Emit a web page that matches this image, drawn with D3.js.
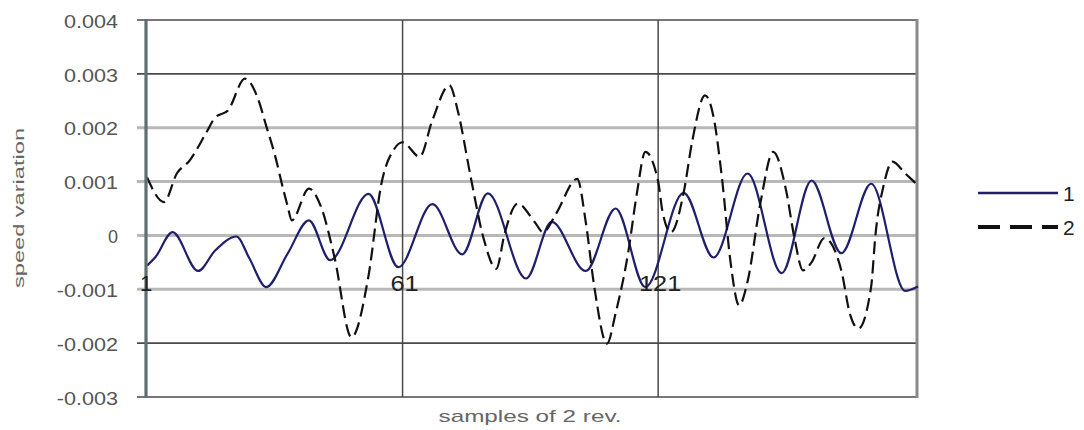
<!DOCTYPE html>
<html>
<head>
<meta charset="utf-8">
<script src="https://cdn.jsdelivr.net/npm/d3@7"></script>
<style>
  html, body { margin: 0; padding: 0; background: #ffffff; }
  svg { display: block; }
  text { font-family: "Liberation Sans", Arial, sans-serif; }
</style>
</head>
<body>
<svg id="chart" width="1084" height="430"></svg>
<script>
// ---- data ----
const seriesNames = ["1", "2"];
const categoryLabels = ["1", "61", "121"];
const yTicks = [-0.003, -0.002, -0.001, 0, 0.001, 0.002, 0.003, 0.004];
const yTitle = "speed variation";
const xTitle = "samples of 2 rev.";

// series 1 (solid) : sample index, value
const samples1 = [1, 3, 7, 13, 17, 22, 25, 29, 34, 39, 44, 53, 60, 68, 75, 81, 90, 96, 104, 111, 118, 127, 134, 142, 150, 157, 164, 171, 179, 182];
const values1 = [-0.00056, -0.00040, 0.00006, -0.00066, -0.00028, -0.00002, -0.00042, -0.00096, -0.00034, 0.00028, -0.00046, 0.00077, -0.00059, 0.00058, -0.00035, 0.00078, -0.00080, 0.00025, -0.00066, 0.00050, -0.00096, 0.00079, -0.00041, 0.00115, -0.00070, 0.00102, -0.00033, 0.00096, -0.00103, -0.00095];

// series 2 (dashed) : sample index, value
const samples2 = [1, 5, 8, 11, 15, 17, 20, 24, 27, 29, 31, 33, 34, 35, 39, 42, 45, 49, 53, 56, 59, 61, 65, 68, 72, 74, 77, 80, 83, 85, 88, 92, 94, 97, 102, 104, 106, 109, 111, 114, 116, 118, 121, 122, 124, 127, 129, 132, 134, 136, 138, 140, 142, 145, 148, 151, 153, 155, 157, 160, 164, 166, 168, 171, 172, 174, 176, 179, 182];
const values2 = [0.00108, 0.00062, 0.00115, 0.00139, 0.00192, 0.00219, 0.00232, 0.00291, 0.00255, 0.00203, 0.00150, 0.00085, 0.00055, 0.00028, 0.00087, 0.00050, -0.00040, -0.00189, -0.00075, 0.00095, 0.00160, 0.00173, 0.00146, 0.00214, 0.00279, 0.00230, 0.00108, -0.00005, -0.00062, 0.00005, 0.00059, 0.00025, 0.00006, 0.00040, 0.00105, 0.00025, -0.00095, -0.00201, -0.00145, -0.00030, 0.00078, 0.00155, 0.00100, 0.00045, 0.00006, 0.00080, 0.00175, 0.00260, 0.00220, 0.00105, -0.00050, -0.00130, -0.00085, 0.00060, 0.00155, 0.00085, -0.00005, -0.00065, -0.00050, -0.00005, -0.00065, -0.00145, -0.00173, -0.00095, 0.00000, 0.00095, 0.00137, 0.00115, 0.00093];

// ---- drawing ----
const svg = d3.select("#chart");
const x = d3.scaleLinear().domain([1, 182]).range([147, 918]);
const y = d3.scaleLinear().domain([-0.003, 0.004]).range([397, 20]);
const cats = categoryLabels.map(Number);

// horizontal gridlines (extend left as tick marks)
const darkTicks = new Set([0.004, 0.003, -0.002, -0.003]);
svg.append("g").selectAll("line").data(yTicks).join("line")
  .attr("x1", 137).attr("x2", 918)
  .attr("y1", d => y(d)).attr("y2", d => y(d))
  .attr("stroke", d => darkTicks.has(d) ? "#4a4a4a" : "#b8b8b8")
  .attr("stroke-width", d => darkTicks.has(d) ? 1.6 : 3);

// vertical gridlines at category labels (except first)
svg.append("g").selectAll("line").data(cats.slice(1)).join("line")
  .attr("x1", d => x(d)).attr("x2", d => x(d))
  .attr("y1", y(0.004)).attr("y2", y(-0.003))
  .attr("stroke", "#4a4a4a").attr("stroke-width", 1.5);

// right border
svg.append("line").attr("x1", 917).attr("x2", 917)
  .attr("y1", y(0.004) - 1).attr("y2", y(-0.003) + 1)
  .attr("stroke", "#8a8a8a").attr("stroke-width", 3);

// series lines
const line = (xs, vs) => d3.line().curve(d3.curveMonotoneX)
  .x((d, i) => x(xs[i])).y((d, i) => y(vs[i]))(vs);

svg.append("path").attr("d", line(samples1, values1))
  .attr("fill", "none").attr("stroke", "#1f1f6b").attr("stroke-width", 2.2);
svg.append("path").attr("d", line(samples2, values2))
  .attr("fill", "none").attr("stroke", "#111").attr("stroke-width", 2.2)
  .attr("stroke-dasharray", "13,6");

// y axis
const yAxis = svg.append("g").attr("transform", "translate(146,0)")
  .call(d3.axisLeft(y).tickValues(yTicks).tickSize(0).tickPadding(28)
    .tickFormat(d => d === 0 ? "0" : d.toFixed(3)));
yAxis.select(".domain").attr("stroke", "#5f6e6e").attr("stroke-width", 3.2)
  .attr("d", `M0,${y(0.004) - 1}V${y(-0.003) + 1}`);
yAxis.selectAll("text")
  .attr("font-size", 18).attr("fill", "#555").attr("font-family", "Liberation Sans, Arial, sans-serif")
  .attr("dy", "0.40em")
  .each(function () {
    const w = this.getComputedTextLength();
    if (this.textContent.length > 1) d3.select(this).attr("textLength", w * 1.2).attr("lengthAdjust", "spacingAndGlyphs");
  });

// category labels
svg.append("g").selectAll("text").data(categoryLabels).join("text")
  .attr("x", d => x(+d) + (d === "1" ? -1 : 2)).attr("y", 291)
  .attr("text-anchor", "middle").attr("font-size", 22).attr("fill", "#222")
  .text(d => d)
  .each(function () {
    const w = this.getComputedTextLength();
    if (this.textContent.length > 1) d3.select(this).attr("textLength", w * 1.15).attr("lengthAdjust", "spacingAndGlyphs");
  });

// axis titles
svg.append("text").attr("transform", "translate(24,208) rotate(-90)")
  .attr("text-anchor", "middle").attr("font-size", 14).attr("fill", "#666")
  .attr("textLength", 160).attr("lengthAdjust", "spacingAndGlyphs")
  .text(yTitle);
svg.append("text").attr("x", 530).attr("y", 422)
  .attr("text-anchor", "middle").attr("font-size", 17).attr("fill", "#666")
  .attr("textLength", 183).attr("lengthAdjust", "spacingAndGlyphs")
  .text(xTitle);

// legend
const legY = [193, 227];
const lg = svg.append("g");
lg.selectAll("line").data(seriesNames).join("line")
  .attr("x1", 978).attr("x2", 1058)
  .attr("y1", (d, i) => legY[i]).attr("y2", (d, i) => legY[i])
  .attr("stroke", (d, i) => i === 0 ? "#1f1f6b" : "#111")
  .attr("stroke-width", (d, i) => i === 0 ? 2.5 : 4)
  .attr("stroke-dasharray", (d, i) => i === 0 ? null : "22,10");
lg.selectAll("text").data(seriesNames).join("text")
  .attr("x", 1063).attr("y", (d, i) => legY[i] + 8)
  .attr("font-size", 21).attr("fill", "#222")
  .text(d => d);
</script>
</body>
</html>
